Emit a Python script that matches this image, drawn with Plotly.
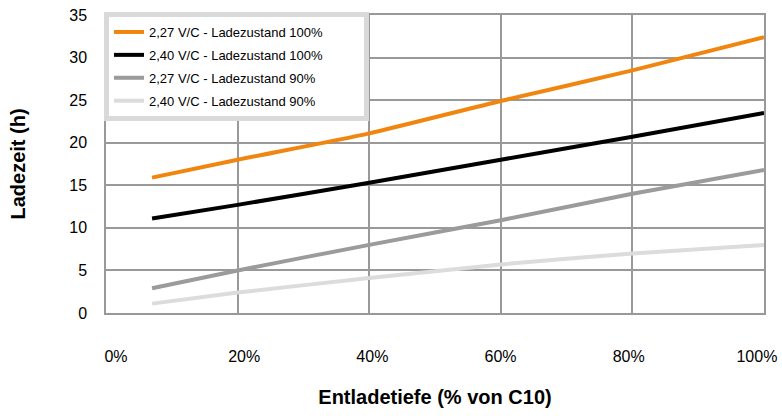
import plotly.graph_objects as go

x_vals = [0.07, 0.2, 0.4, 0.6, 0.8, 1.0]
series_names = [
    "2,27 V/C - Ladezustand 100%",
    "2,40 V/C - Ladezustand 100%",
    "2,27 V/C - Ladezustand 90%",
    "2,40 V/C - Ladezustand 90%",
]
orange_100 = [15.9, 18.0, 21.1, 24.9, 28.5, 32.4]
black_100 = [11.1, 12.7, 15.3, 18.0, 20.7, 23.5]
gray_90 = [2.9, 5.0, 8.0, 10.9, 14.0, 16.8]
light_90 = [1.1, 2.4, 4.1, 5.7, 7.0, 8.0]
colors = ["#f0860f", "#000000", "#9b9b9b", "#dcdcdc"]
x_ticks = [0, 0.2, 0.4, 0.6, 0.8, 1.0]
x_labels = ["0%", "20%", "40%", "60%", "80%", "100%"]
# in the original the tick labels sit on a slightly compressed scale
label_pos = [0.0152 + t * 0.974 for t in x_ticks]

pad = "\u00a0" * 10
fig = go.Figure()
for i, (name, ys, c) in enumerate(zip(series_names, [orange_100, black_100, gray_90, light_90], colors)):
    fig.add_trace(go.Scatter(x=x_vals, y=ys, mode="lines", name=name + pad, legendgroup=f"g{i}",
                             line=dict(color=c, width=4, shape="spline", smoothing=0.6)))

font_family = "Liberation Sans, Arial"
fig.update_layout(
    width=782, height=416,
    margin=dict(l=106, r=18, t=15, b=103),
    plot_bgcolor="white", paper_bgcolor="white",
    font=dict(family=font_family, size=16, color="#000"),
    legend=dict(
        x=-0.003, y=1.01, xanchor="left", yanchor="top",
        bgcolor="white", bordercolor="#d9d9d9", borderwidth=5,
        font=dict(family=font_family, size=13),
        itemwidth=30, tracegroupgap=3,
    ),
    xaxis=dict(
        range=[0, 1], tickvals=label_pos, ticktext=x_labels, automargin=False,
        showgrid=False,
        minor=dict(tickvals=x_ticks, showgrid=True, gridcolor="#999999", gridwidth=1.5, ticks=""),
        showline=True, linecolor="#999999", linewidth=1.5, mirror=True,
        zeroline=False, ticks="", ticklabelstandoff=28, ticklabeloverflow="allow",
        title=dict(text="<b>Entladetiefe (% von C10)</b>", standoff=26,
                   font=dict(family=font_family, size=20)),
    ),
    yaxis=dict(
        range=[0, 35], dtick=5, automargin=False,
        showgrid=True, gridcolor="#999999", gridwidth=1.5,
        showline=True, linecolor="#999999", linewidth=1.5, mirror=True,
        zeroline=False, ticks="", ticklabelstandoff=14,
        title=dict(text="<b>Ladezeit (h)</b>", standoff=38,
                   font=dict(family=font_family, size=20)),
    ),
)

fig.write_html("out.html", config={"displayModeBar": False},
               post_script="document.body.style.margin='0';")
